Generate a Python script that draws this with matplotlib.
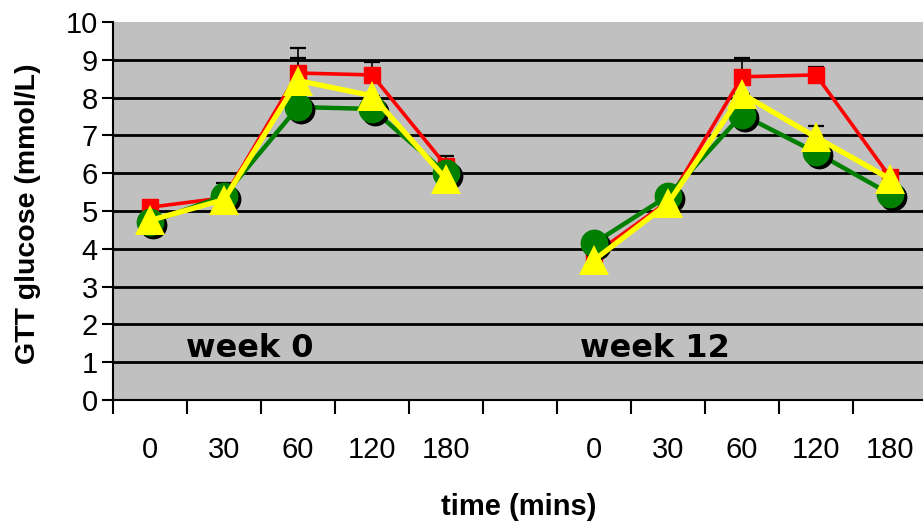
import numpy as np
import matplotlib
matplotlib.use("Agg")
import matplotlib.pyplot as plt
from matplotlib.transforms import offset_copy

# ---- data ----
categories = ['0', '30', '60', '120', '180', '', '0', '30', '60', '120', '180']
red_vals    = [5.10, 5.35, 8.65, 8.60, 6.20, np.nan, 3.85, 5.25, 8.55, 8.60, 5.90]
yellow_vals = [4.75, 5.30, 8.45, 8.05, 5.85, np.nan, 3.70, 5.20, 8.10, 6.95, 5.85]
green_vals  = [4.70, 5.40, 7.75, 7.70, 6.00, np.nan, 4.15, 5.40, 7.55, 6.55, 5.45]
red_err     = [0.10, 0.40, 0.65, 0.35, 0.25, np.nan, 0.10, 0.10, 0.50, 0.20, 0.05]
yellow_err  = [0.05, 0.10, 0.60, 0.40, 0.10, np.nan, 0.05, 0.10, 0.45, 0.30, 0.05]
green_err   = [0.05, 0.10, 0.30, 0.30, 0.10, np.nan, 0.05, 0.10, 0.20, 0.20, 0.10]
group_labels = ['week 0', 'week 12']
group_label_x = [1.35, 6.82]
group_label_y = [1.35, 1.35]

plt.rcParams['font.family'] = ['Liberation Sans', 'DejaVu Sans']

fig = plt.figure(figsize=(9.23, 5.22), dpi=100)
ax = fig.add_axes([113/923, 122/522, 814/923, 378/522])
ax.set_facecolor('#C0C0C0')

x = np.arange(len(categories))

def draw_err(vals, err, z):
    v = np.array(vals, dtype=float)
    e = np.array(err, dtype=float)
    ax.errorbar(x, v, yerr=[np.zeros_like(e), e], fmt='none', ecolor='black',
                elinewidth=1.2, capsize=6, capthick=1.6, zorder=z)

draw_err(red_vals, red_err, 2.1)
draw_err(green_vals, green_err, 2.1)
draw_err(yellow_vals, yellow_err, 2.1)

# red series
ax.plot(x, red_vals, color='#FF0000', lw=2.6, marker='s', ms=12,
        markerfacecolor='#FF0000', markeredgecolor='#FF0000', zorder=3)
# green series with shadow
shadow = offset_copy(ax.transData, fig=fig, x=3, y=-3, units='dots')
ax.plot(x, green_vals, color='#007F00', lw=3.2, zorder=4)
ax.plot(x, green_vals, linestyle='none', marker='o', ms=20, color='black',
        markeredgewidth=0, transform=shadow, zorder=4.1)
ax.plot(x, green_vals, linestyle='none', marker='o', ms=20, color='#007F00',
        markeredgewidth=0, zorder=4.2)
# yellow series
ax.plot(x, yellow_vals, color='#FFFF00', lw=3.8, marker='^', ms=21,
        markerfacecolor='#FFFF00', markeredgewidth=0, zorder=5)

ax.set_xlim(-0.5, len(categories) - 0.5)
ax.set_ylim(0, 10)
ax.set_yticks(np.arange(0, 11, 1))
ax.tick_params(axis='y', labelsize=21, length=8, width=1.5, pad=3, direction='out')

ax.set_xticks(np.arange(-0.5, len(categories), 1))
ax.set_xticklabels([])
ax.set_xticks(x, minor=True)
ax.set_xticklabels(categories, minor=True)
ax.tick_params(axis='x', which='major', length=10, width=1.5, direction='out')
ax.tick_params(axis='x', which='minor', length=0, labelsize=21, pad=26)

ax.yaxis.grid(True, color='black', lw=2.0)
ax.set_axisbelow(True)
gl = ax.yaxis.get_gridlines()
gl[0].set_visible(False)
gl[-1].set_visible(False)

for s in ['top', 'right']:
    ax.spines[s].set_visible(False)
for s in ['left', 'bottom']:
    ax.spines[s].set_color('black')
    ax.spines[s].set_linewidth(1.5)

for lab, gx, gy in zip(group_labels, group_label_x, group_label_y):
    ax.text(gx, gy, lab, ha='center', va='center', fontsize=23,
            fontweight='bold', family='DejaVu Sans', zorder=6)

fig.text(519/923, 1 - 507/522, 'time (mins)', ha='center', va='center',
         fontsize=21, fontweight='bold')
fig.text(28/923, 1 - 214/522, 'GTT glucose (mmol/L)', ha='center', va='center',
         rotation=90, fontsize=20.5, fontweight='bold')

fig.savefig('out.png', dpi=100)
